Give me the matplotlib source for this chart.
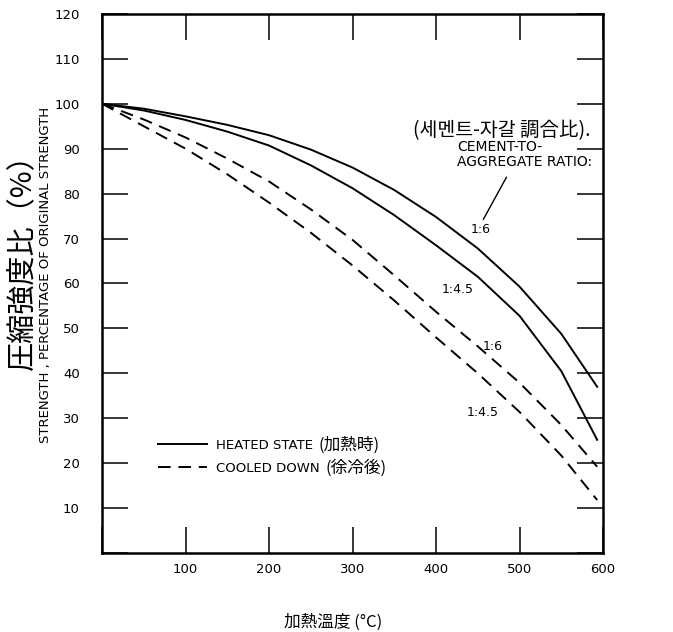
import matplotlib
matplotlib.use('Agg')
import matplotlib.pyplot as plt
from matplotlib.lines import Line2D

# heating temperature (C) and strength (% of original)
temps = [0, 50, 100, 150, 200, 250, 300, 350, 400, 450, 500, 550, 593]
heated_16 = [100, 98.9, 97.2, 95.3, 93, 89.8, 85.8, 80.8, 74.8, 67.8, 59.3, 48.8, 37]
heated_145 = [100, 98.5, 96.4, 93.8, 90.7, 86.3, 81.2, 75.2, 68.5, 61.5, 52.8, 40.5, 25.2]
cooled_16 = [100, 96.5, 92.5, 87.8, 82.7, 76.5, 69.7, 61.8, 53.7, 46, 37.9, 28.5, 19.2]
cooled_145 = [100, 95, 90, 84.3, 78, 71.3, 64, 56.2, 48, 40, 31.4, 21.7, 11.8]

xticks = [0, 100, 200, 300, 400, 500, 600]
xlabels = ['', '100', '200', '300', '400', '500', '600']
yticks = list(range(0, 121, 10))
ylabels = [''] + [str(v) for v in yticks[1:]]

# curve labels: (text, x, y)
curve_labels = [('1:6', 453, 71.9), ('1:4.5', 426, 58.6),
                ('1:6', 468, 45.9), ('1:4.5', 456, 31.2)]

cjk = ['Noto Sans CJK KR', 'DejaVu Sans']

fig = plt.figure(figsize=(6.73, 6.32), dpi=100)
ax = fig.add_axes([0.1516, 0.125, 0.7444, 0.853])

dash = (6.5, 4)
ax.plot(temps, heated_16, color='black', lw=1.4)
ax.plot(temps, heated_145, color='black', lw=1.4)
ax.plot(temps, cooled_16, color='black', lw=1.4, dashes=dash)
ax.plot(temps, cooled_145, color='black', lw=1.4, dashes=dash)

ax.set_xlim(0, 600)
ax.set_ylim(0, 120)
ax.set_xticks(xticks)
ax.set_xticklabels(xlabels)
ax.set_yticks(yticks)
ax.set_yticklabels(ylabels)
ax.tick_params(direction='in', length=19, width=1.1, top=True, right=True,
               labelsize=9.5)
ax.tick_params(axis='x', pad=7)
ax.tick_params(axis='y', pad=16)
for s in ax.spines.values():
    s.set_linewidth(1.8)

for txt, x, y in curve_labels:
    ax.text(x, y, txt, fontsize=9, ha='center', va='center')

ax.text(372, 94.0, '(세멘트-자갈 調合比).', fontsize=14, family=cjk,
        ha='left', va='center')
ax.text(425, 90.4, 'CEMENT-TO-', fontsize=10, ha='left', va='center')
ax.text(425, 87.1, 'AGGREGATE RATIO:', fontsize=10, ha='left', va='center')
ax.annotate('', xy=(455, 73.7), xytext=(486, 84.2),
            arrowprops=dict(arrowstyle='-', lw=1, color='black'))

handles = [Line2D([], [], color='black', lw=1.4),
           Line2D([], [], color='black', lw=1.4, dashes=dash)]
leg = ax.legend(handles, ['HEATED STATE', 'COOLED DOWN'], loc='upper left',
                bbox_to_anchor=(0.112, 0.212), frameon=False, fontsize=9.5,
                borderaxespad=0, borderpad=0, handlelength=3.7,
                handletextpad=0.7, labelspacing=0.75)
for t, extra in zip(leg.get_texts(), ['(加熱時)', '(徐冷後)']):
    ax.annotate(extra, xy=(1, 0.5), xycoords=t, xytext=(4, 0),
                textcoords='offset points', va='center', ha='left',
                fontsize=12, family=cjk, zorder=10)

fig.text(23 / 673, 1 - 255 / 632, '圧縮強度比（%）', rotation=90, fontsize=21,
         family=cjk, ha='center', va='center')
fig.text(46 / 673, 1 - 275 / 632, 'STRENGTH , PERCENTAGE OF ORIGINAL STRENGTH',
         rotation=90, fontsize=9.5, ha='center', va='center')
fig.text(333 / 673, 1 - 622 / 632, '加熱溫度 (°C)', fontsize=12, family=cjk,
         ha='center', va='center')

fig.savefig('out.png', dpi=100)
